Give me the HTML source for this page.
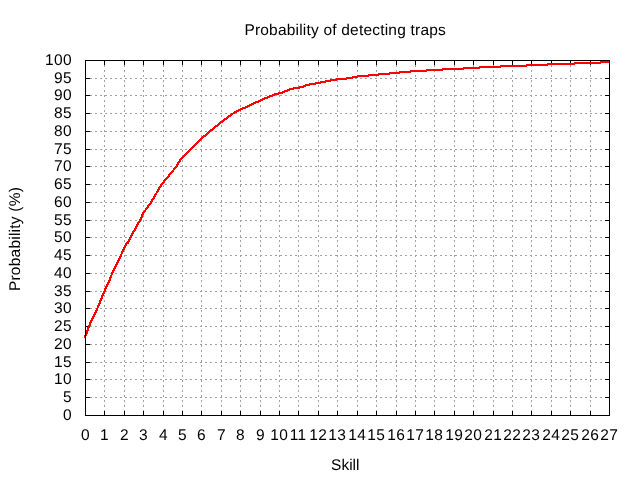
<!DOCTYPE html>
<html lang="en">
<head>
<meta charset="utf-8">
<title>Probability of detecting traps</title>
<style>
html,body{margin:0;padding:0;background:#fff;}
body{width:640px;height:480px;overflow:hidden;}
svg{display:block;}
text{font-family:"Liberation Sans",Arial,Helvetica,sans-serif;font-size:15.5px;fill:#000;text-rendering:geometricPrecision;}
.grid line{stroke:#a0a0a0;stroke-width:1;stroke-dasharray:2 3;}
.tics line,.border rect{stroke:#000;stroke-width:1;fill:none;}
.curve{fill:#ff0000;stroke:none;}
</style>
</head>
<body>
<svg width="640" height="480" viewBox="0 0 640 480">
<rect x="0" y="0" width="640" height="480" fill="#ffffff"/>

<g class="grid" shape-rendering="crispEdges">
<line x1="90" y1="397.5" x2="605" y2="397.5"/>
<line x1="90" y1="379.5" x2="605" y2="379.5"/>
<line x1="90" y1="362.5" x2="605" y2="362.5"/>
<line x1="90" y1="344.5" x2="605" y2="344.5"/>
<line x1="90" y1="326.5" x2="605" y2="326.5"/>
<line x1="90" y1="308.5" x2="605" y2="308.5"/>
<line x1="90" y1="291.5" x2="605" y2="291.5"/>
<line x1="90" y1="273.5" x2="605" y2="273.5"/>
<line x1="90" y1="255.5" x2="605" y2="255.5"/>
<line x1="90" y1="237.5" x2="605" y2="237.5"/>
<line x1="90" y1="220.5" x2="605" y2="220.5"/>
<line x1="90" y1="202.5" x2="605" y2="202.5"/>
<line x1="90" y1="184.5" x2="605" y2="184.5"/>
<line x1="90" y1="166.5" x2="605" y2="166.5"/>
<line x1="90" y1="149.5" x2="605" y2="149.5"/>
<line x1="90" y1="131.5" x2="605" y2="131.5"/>
<line x1="90" y1="113.5" x2="605" y2="113.5"/>
<line x1="90" y1="95.5" x2="605" y2="95.5"/>
<line x1="90" y1="78.5" x2="605" y2="78.5"/>
<line x1="104.5" y1="412" x2="104.5" y2="61"/>
<line x1="124.5" y1="412" x2="124.5" y2="61"/>
<line x1="143.5" y1="412" x2="143.5" y2="61"/>
<line x1="163.5" y1="412" x2="163.5" y2="61"/>
<line x1="182.5" y1="412" x2="182.5" y2="61"/>
<line x1="201.5" y1="412" x2="201.5" y2="61"/>
<line x1="221.5" y1="412" x2="221.5" y2="61"/>
<line x1="240.5" y1="412" x2="240.5" y2="61"/>
<line x1="260.5" y1="412" x2="260.5" y2="61"/>
<line x1="279.5" y1="412" x2="279.5" y2="61"/>
<line x1="298.5" y1="412" x2="298.5" y2="61"/>
<line x1="318.5" y1="412" x2="318.5" y2="61"/>
<line x1="337.5" y1="412" x2="337.5" y2="61"/>
<line x1="357.5" y1="412" x2="357.5" y2="61"/>
<line x1="376.5" y1="412" x2="376.5" y2="61"/>
<line x1="396.5" y1="412" x2="396.5" y2="61"/>
<line x1="415.5" y1="412" x2="415.5" y2="61"/>
<line x1="434.5" y1="412" x2="434.5" y2="61"/>
<line x1="454.5" y1="412" x2="454.5" y2="61"/>
<line x1="473.5" y1="412" x2="473.5" y2="61"/>
<line x1="493.5" y1="412" x2="493.5" y2="61"/>
<line x1="512.5" y1="412" x2="512.5" y2="61"/>
<line x1="531.5" y1="412" x2="531.5" y2="61"/>
<line x1="551.5" y1="412" x2="551.5" y2="61"/>
<line x1="570.5" y1="412" x2="570.5" y2="61"/>
<line x1="590.5" y1="412" x2="590.5" y2="61"/>
</g>
<g class="tics" shape-rendering="crispEdges">
<line x1="85" y1="415.5" x2="90" y2="415.5"/>
<line x1="610" y1="415.5" x2="605" y2="415.5"/>
<line x1="85" y1="397.5" x2="90" y2="397.5"/>
<line x1="610" y1="397.5" x2="605" y2="397.5"/>
<line x1="85" y1="379.5" x2="90" y2="379.5"/>
<line x1="610" y1="379.5" x2="605" y2="379.5"/>
<line x1="85" y1="362.5" x2="90" y2="362.5"/>
<line x1="610" y1="362.5" x2="605" y2="362.5"/>
<line x1="85" y1="344.5" x2="90" y2="344.5"/>
<line x1="610" y1="344.5" x2="605" y2="344.5"/>
<line x1="85" y1="326.5" x2="90" y2="326.5"/>
<line x1="610" y1="326.5" x2="605" y2="326.5"/>
<line x1="85" y1="308.5" x2="90" y2="308.5"/>
<line x1="610" y1="308.5" x2="605" y2="308.5"/>
<line x1="85" y1="291.5" x2="90" y2="291.5"/>
<line x1="610" y1="291.5" x2="605" y2="291.5"/>
<line x1="85" y1="273.5" x2="90" y2="273.5"/>
<line x1="610" y1="273.5" x2="605" y2="273.5"/>
<line x1="85" y1="255.5" x2="90" y2="255.5"/>
<line x1="610" y1="255.5" x2="605" y2="255.5"/>
<line x1="85" y1="237.5" x2="90" y2="237.5"/>
<line x1="610" y1="237.5" x2="605" y2="237.5"/>
<line x1="85" y1="220.5" x2="90" y2="220.5"/>
<line x1="610" y1="220.5" x2="605" y2="220.5"/>
<line x1="85" y1="202.5" x2="90" y2="202.5"/>
<line x1="610" y1="202.5" x2="605" y2="202.5"/>
<line x1="85" y1="184.5" x2="90" y2="184.5"/>
<line x1="610" y1="184.5" x2="605" y2="184.5"/>
<line x1="85" y1="166.5" x2="90" y2="166.5"/>
<line x1="610" y1="166.5" x2="605" y2="166.5"/>
<line x1="85" y1="149.5" x2="90" y2="149.5"/>
<line x1="610" y1="149.5" x2="605" y2="149.5"/>
<line x1="85" y1="131.5" x2="90" y2="131.5"/>
<line x1="610" y1="131.5" x2="605" y2="131.5"/>
<line x1="85" y1="113.5" x2="90" y2="113.5"/>
<line x1="610" y1="113.5" x2="605" y2="113.5"/>
<line x1="85" y1="95.5" x2="90" y2="95.5"/>
<line x1="610" y1="95.5" x2="605" y2="95.5"/>
<line x1="85" y1="78.5" x2="90" y2="78.5"/>
<line x1="610" y1="78.5" x2="605" y2="78.5"/>
<line x1="85" y1="60.5" x2="90" y2="60.5"/>
<line x1="610" y1="60.5" x2="605" y2="60.5"/>
<line x1="85.5" y1="416" x2="85.5" y2="411"/>
<line x1="85.5" y1="60" x2="85.5" y2="65"/>
<line x1="104.5" y1="416" x2="104.5" y2="411"/>
<line x1="104.5" y1="60" x2="104.5" y2="65"/>
<line x1="124.5" y1="416" x2="124.5" y2="411"/>
<line x1="124.5" y1="60" x2="124.5" y2="65"/>
<line x1="143.5" y1="416" x2="143.5" y2="411"/>
<line x1="143.5" y1="60" x2="143.5" y2="65"/>
<line x1="163.5" y1="416" x2="163.5" y2="411"/>
<line x1="163.5" y1="60" x2="163.5" y2="65"/>
<line x1="182.5" y1="416" x2="182.5" y2="411"/>
<line x1="182.5" y1="60" x2="182.5" y2="65"/>
<line x1="201.5" y1="416" x2="201.5" y2="411"/>
<line x1="201.5" y1="60" x2="201.5" y2="65"/>
<line x1="221.5" y1="416" x2="221.5" y2="411"/>
<line x1="221.5" y1="60" x2="221.5" y2="65"/>
<line x1="240.5" y1="416" x2="240.5" y2="411"/>
<line x1="240.5" y1="60" x2="240.5" y2="65"/>
<line x1="260.5" y1="416" x2="260.5" y2="411"/>
<line x1="260.5" y1="60" x2="260.5" y2="65"/>
<line x1="279.5" y1="416" x2="279.5" y2="411"/>
<line x1="279.5" y1="60" x2="279.5" y2="65"/>
<line x1="298.5" y1="416" x2="298.5" y2="411"/>
<line x1="298.5" y1="60" x2="298.5" y2="65"/>
<line x1="318.5" y1="416" x2="318.5" y2="411"/>
<line x1="318.5" y1="60" x2="318.5" y2="65"/>
<line x1="337.5" y1="416" x2="337.5" y2="411"/>
<line x1="337.5" y1="60" x2="337.5" y2="65"/>
<line x1="357.5" y1="416" x2="357.5" y2="411"/>
<line x1="357.5" y1="60" x2="357.5" y2="65"/>
<line x1="376.5" y1="416" x2="376.5" y2="411"/>
<line x1="376.5" y1="60" x2="376.5" y2="65"/>
<line x1="396.5" y1="416" x2="396.5" y2="411"/>
<line x1="396.5" y1="60" x2="396.5" y2="65"/>
<line x1="415.5" y1="416" x2="415.5" y2="411"/>
<line x1="415.5" y1="60" x2="415.5" y2="65"/>
<line x1="434.5" y1="416" x2="434.5" y2="411"/>
<line x1="434.5" y1="60" x2="434.5" y2="65"/>
<line x1="454.5" y1="416" x2="454.5" y2="411"/>
<line x1="454.5" y1="60" x2="454.5" y2="65"/>
<line x1="473.5" y1="416" x2="473.5" y2="411"/>
<line x1="473.5" y1="60" x2="473.5" y2="65"/>
<line x1="493.5" y1="416" x2="493.5" y2="411"/>
<line x1="493.5" y1="60" x2="493.5" y2="65"/>
<line x1="512.5" y1="416" x2="512.5" y2="411"/>
<line x1="512.5" y1="60" x2="512.5" y2="65"/>
<line x1="531.5" y1="416" x2="531.5" y2="411"/>
<line x1="531.5" y1="60" x2="531.5" y2="65"/>
<line x1="551.5" y1="416" x2="551.5" y2="411"/>
<line x1="551.5" y1="60" x2="551.5" y2="65"/>
<line x1="570.5" y1="416" x2="570.5" y2="411"/>
<line x1="570.5" y1="60" x2="570.5" y2="65"/>
<line x1="590.5" y1="416" x2="590.5" y2="411"/>
<line x1="590.5" y1="60" x2="590.5" y2="65"/>
<line x1="609.5" y1="416" x2="609.5" y2="411"/>
<line x1="609.5" y1="60" x2="609.5" y2="65"/>
</g>
<path class="curve" shape-rendering="crispEdges" d="M84 335h1v3h-1zM85 333h1v5h-1zM86 330h1v6h-1zM87 327h1v7h-1zM88 325h1v6h-1zM89 322h1v6h-1zM90 320h1v6h-1zM91 318h1v5h-1zM92 316h1v5h-1zM93 314h1v5h-1zM94 312h1v5h-1zM95 310h1v5h-1zM96 308h1v5h-1zM97 305h1v6h-1zM98 303h1v5h-1zM99 300h1v6h-1zM100 298h1v6h-1zM101 295h1v6h-1zM102 293h1v6h-1zM103 291h1v5h-1zM104 288h1v6h-1zM105 286h1v6h-1zM106 284h1v5h-1zM107 282h1v5h-1zM108 280h1v5h-1zM109 277h1v6h-1zM110 275h1v6h-1zM111 272h1v6h-1zM112 270h1v5h-1zM113 268h1v5h-1zM114 266h1v5h-1zM115 264h1v5h-1zM116 262h1v5h-1zM117 260h1v5h-1zM118 258h1v5h-1zM119 256h1v5h-1zM120 254h1v5h-1zM121 251h1v6h-1zM122 249h1v5h-1zM123 247h1v5h-1zM124 245h1v5h-1zM125 243h1v5h-1zM126 242h1v4h-1zM127 241h1v3h-1zM128 239h1v5h-1zM129 237h1v5h-1zM130 235h1v5h-1zM131 233h1v5h-1zM132 231h1v5h-1zM133 230h1v4h-1zM134 228h1v4h-1zM135 226h1v5h-1zM136 224h1v5h-1zM137 222h1v5h-1zM138 221h1v4h-1zM139 219h1v4h-1zM140 217h1v5h-1zM141 214h1v6h-1zM142 212h1v6h-1zM143 211h1v4h-1zM144 210h1v3h-1zM145 208h1v4h-1zM146 207h1v3h-1zM147 205h1v4h-1zM148 204h1v4h-1zM149 203h1v3h-1zM150 201h1v4h-1zM151 199h1v5h-1zM152 198h1v4h-1zM153 196h1v4h-1zM154 194h1v5h-1zM155 193h1v4h-1zM156 191h1v4h-1zM157 189h1v4h-1zM158 187h1v5h-1zM159 186h1v4h-1zM160 184h1v4h-1zM161 183h1v4h-1zM162 182h1v3h-1zM163 180h1v4h-1zM164 179h1v4h-1zM165 178h1v3h-1zM166 177h1v3h-1zM167 176h1v3h-1zM168 174h1v4h-1zM169 173h1v4h-1zM170 172h1v3h-1zM171 171h1v3h-1zM172 170h1v3h-1zM173 168h1v4h-1zM174 167h1v3h-1zM175 166h1v3h-1zM176 164h1v4h-1zM177 162h1v5h-1zM178 161h1v4h-1zM179 159h1v4h-1zM180 158h1v4h-1zM181 157h1v3h-1zM182 156h1v3h-1zM183 155h1v3h-1zM184 154h1v3h-1zM185 153h1v3h-1zM186 152h1v3h-1zM187 151h1v3h-1zM188 150h1v3h-1zM189 149h1v3h-1zM190 148h1v3h-1zM191 147h1v3h-1zM192 146h1v3h-1zM193 145h1v3h-1zM194 144h1v3h-1zM195 143h1v3h-1zM196 142h1v3h-1zM197 141h1v3h-1zM198 140h1v3h-1zM199 139h1v3h-1zM200 138h1v3h-1zM201 137h1v3h-1zM202 136h1v3h-1zM203 135h1v3h-1zM204 135h1v2h-1zM205 134h1v3h-1zM206 133h1v3h-1zM207 132h1v3h-1zM208 131h1v3h-1zM209 130h1v3h-1zM210 129h1v3h-1zM211 129h1v2h-1zM212 128h1v3h-1zM213 127h1v3h-1zM214 126h1v3h-1zM215 125h1v3h-1zM216 125h1v2h-1zM217 124h1v3h-1zM218 123h1v3h-1zM219 122h1v3h-1zM220 121h1v3h-1zM221 121h1v2h-1zM222 120h1v3h-1zM223 119h1v3h-1zM224 118h1v3h-1zM225 118h1v2h-1zM226 117h1v3h-1zM227 116h1v3h-1zM228 115h1v3h-1zM229 115h1v2h-1zM230 114h1v3h-1zM231 113h1v3h-1zM232 113h1v2h-1zM233 112h1v2h-1zM234 111h1v3h-1zM235 111h1v2h-1zM236 110h1v3h-1zM237 110h1v2h-1zM238 109h1v3h-1zM239 109h1v2h-1zM240 108h1v3h-1zM241 108h1v2h-1zM242 107h1v3h-1zM243 107h2v2h-2zM245 106h1v3h-1zM246 106h1v2h-1zM247 105h1v3h-1zM248 105h1v2h-1zM249 104h1v3h-1zM250 104h1v2h-1zM251 103h1v3h-1zM252 103h1v2h-1zM253 102h1v3h-1zM254 102h1v2h-1zM255 101h1v3h-1zM256 101h2v2h-2zM258 100h1v3h-1zM259 100h1v2h-1zM260 99h1v3h-1zM261 99h1v2h-1zM262 98h1v3h-1zM263 98h1v2h-1zM264 97h1v3h-1zM265 97h2v2h-2zM267 96h1v3h-1zM268 96h1v2h-1zM269 95h1v3h-1zM270 95h2v2h-2zM272 94h1v3h-1zM273 94h1v2h-1zM274 93h1v3h-1zM275 93h3v2h-3zM278 92h1v3h-1zM279 92h3v2h-3zM282 91h1v3h-1zM283 91h1v2h-1zM284 90h1v3h-1zM285 90h2v2h-2zM287 89h1v3h-1zM288 89h1v2h-1zM289 88h1v3h-1zM290 88h3v2h-3zM293 87h1v3h-1zM294 87h5v2h-5zM299 86h1v3h-1zM300 86h3v2h-3zM303 85h1v3h-1zM304 85h1v2h-1zM305 84h1v3h-1zM306 84h3v2h-3zM309 83h1v3h-1zM310 83h5v2h-5zM315 82h1v3h-1zM316 82h4v2h-4zM320 81h1v3h-1zM321 81h4v2h-4zM325 80h1v3h-1zM326 80h4v2h-4zM330 79h1v3h-1zM331 79h5v2h-5zM336 78h1v3h-1zM337 78h9v2h-9zM346 77h1v3h-1zM347 77h5v2h-5zM352 76h1v3h-1zM353 76h4v2h-4zM357 75h1v3h-1zM358 75h10v2h-10zM368 74h1v3h-1zM369 74h9v2h-9zM378 73h1v3h-1zM379 73h10v2h-10zM389 72h1v3h-1zM390 72h9v2h-9zM399 71h1v3h-1zM400 71h10v2h-10zM410 70h1v3h-1zM411 70h15v2h-15zM426 69h1v3h-1zM427 69h15v2h-15zM442 68h1v3h-1zM443 68h20v2h-20zM463 67h1v3h-1zM464 67h15v2h-15zM479 66h1v3h-1zM480 66h20v2h-20zM500 65h1v3h-1zM501 65h25v2h-25zM526 64h1v3h-1zM527 64h20v2h-20zM547 63h1v3h-1zM548 63h26v2h-26zM574 62h1v3h-1zM575 62h25v2h-25zM600 61h1v3h-1zM601 61h9v2h-9z"/>
<g class="border" shape-rendering="crispEdges">
<rect x="85.5" y="60.5" width="524" height="355"/>
</g>
<g text-anchor="end" letter-spacing="0.38">
<text x="72.1" y="420">0</text>
<text x="72.1" y="402">5</text>
<text x="72.1" y="384">10</text>
<text x="72.1" y="367">15</text>
<text x="72.1" y="349">20</text>
<text x="72.1" y="331">25</text>
<text x="72.1" y="313">30</text>
<text x="72.1" y="296">35</text>
<text x="72.1" y="278">40</text>
<text x="72.1" y="260">45</text>
<text x="72.1" y="242">50</text>
<text x="72.1" y="225">55</text>
<text x="72.1" y="207">60</text>
<text x="72.1" y="189">65</text>
<text x="72.1" y="171">70</text>
<text x="72.1" y="154">75</text>
<text x="72.1" y="136">80</text>
<text x="72.1" y="118">85</text>
<text x="72.1" y="100">90</text>
<text x="72.1" y="83">95</text>
<text x="72.1" y="65">100</text>
</g>
<g text-anchor="middle" letter-spacing="0.38">
<text x="85.6" y="440">0</text>
<text x="104.6" y="440">1</text>
<text x="124.6" y="440">2</text>
<text x="143.6" y="440">3</text>
<text x="163.6" y="440">4</text>
<text x="182.6" y="440">5</text>
<text x="201.6" y="440">6</text>
<text x="221.6" y="440">7</text>
<text x="240.6" y="440">8</text>
<text x="260.6" y="440">9</text>
<text x="279.2" y="440">10</text>
<text x="298.2" y="440">11</text>
<text x="318.2" y="440">12</text>
<text x="337.2" y="440">13</text>
<text x="357.2" y="440">14</text>
<text x="376.2" y="440">15</text>
<text x="396.2" y="440">16</text>
<text x="415.2" y="440">17</text>
<text x="434.2" y="440">18</text>
<text x="454.2" y="440">19</text>
<text x="473.2" y="440">20</text>
<text x="493.2" y="440">21</text>
<text x="512.2" y="440">22</text>
<text x="531.2" y="440">23</text>
<text x="551.2" y="440">24</text>
<text x="570.2" y="440">25</text>
<text x="590.2" y="440">26</text>
<text x="609.2" y="440">27</text>
</g>
<g text-anchor="middle">
<text x="345.2" y="35" letter-spacing="0.2">Probability of detecting traps</text>
<text x="345.3" y="470" letter-spacing="0">Skill</text>
<text transform="translate(20,239) rotate(-90)" letter-spacing="0.23">Probability (%)</text>
</g>
</svg>
</body>
</html>
